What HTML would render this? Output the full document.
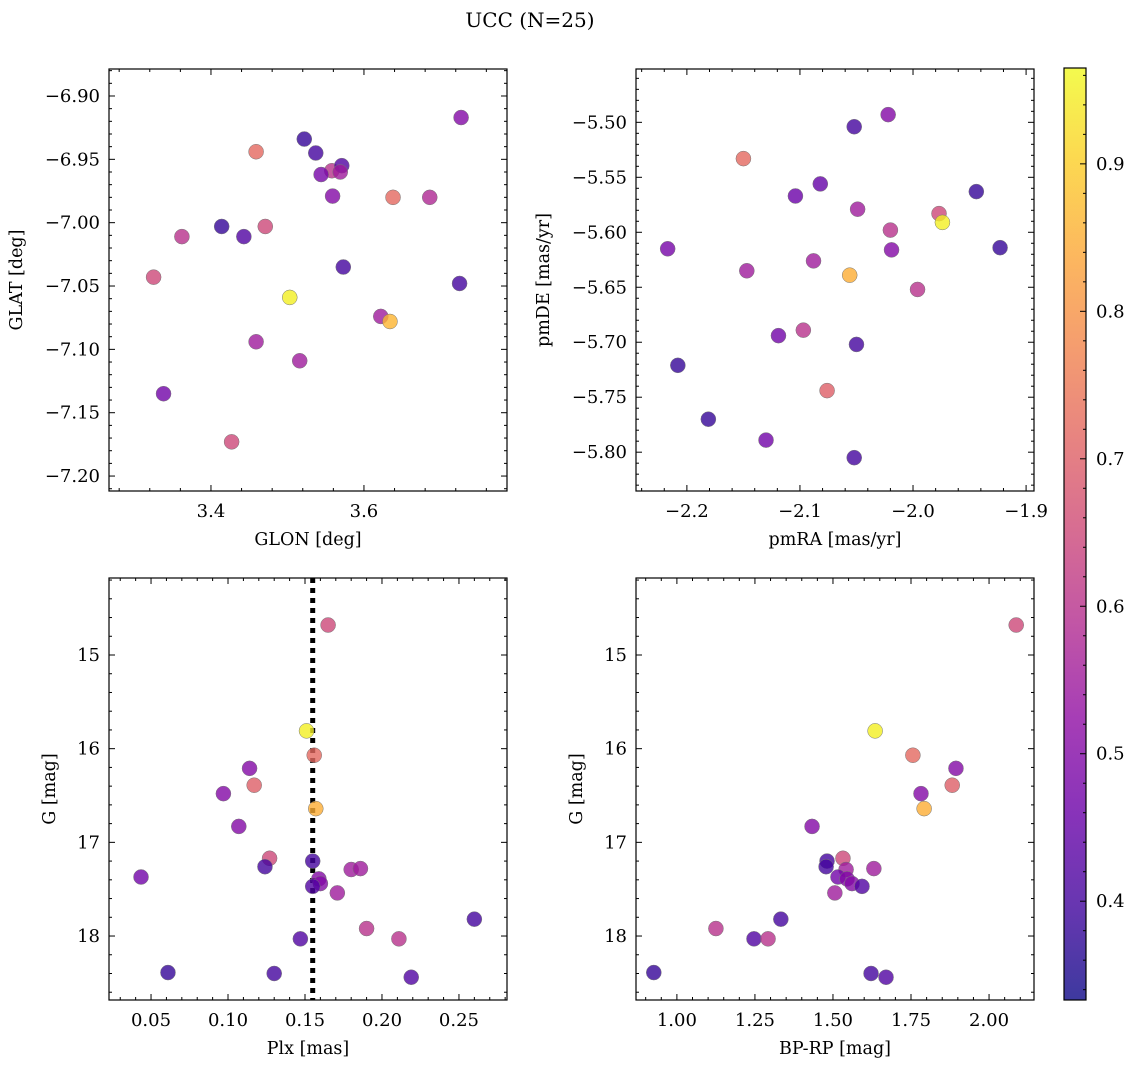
<!DOCTYPE html>
<html><head><meta charset="utf-8"><style>
body{margin:0;background:#fff}
svg text{font-family:"DejaVu Serif","Liberation Serif",serif;fill:#000}
</style></head><body>
<svg id="fig" width="1136" height="1068" xmlns="http://www.w3.org/2000/svg">
<text x="530" y="27" font-size="20" text-anchor="middle">UCC (N=25)</text>
</svg>
<script>
const glon=[3.727,3.558,3.459,3.522,3.537,3.571,3.544,3.569,3.559,3.638,3.686,3.362,3.414,3.443,3.471,3.325,3.573,3.725,3.503,3.622,3.634,3.459,3.516,3.338,3.427];
const glat=[-6.917,-6.959,-6.944,-6.934,-6.945,-6.955,-6.962,-6.960,-6.979,-6.980,-6.980,-7.011,-7.003,-7.011,-7.003,-7.043,-7.035,-7.048,-7.059,-7.074,-7.078,-7.094,-7.109,-7.135,-7.173];
const probA=[0.5,0.6,0.72,0.38,0.4,0.42,0.48,0.55,0.5,0.72,0.58,0.6,0.38,0.42,0.65,0.65,0.4,0.4,0.95,0.55,0.86,0.55,0.55,0.47,0.65];
const pmra=[-2.022,-2.052,-2.150,-2.104,-2.082,-2.049,-1.944,-1.977,-1.974,-2.020,-2.217,-2.019,-1.923,-2.088,-2.147,-2.056,-1.996,-2.119,-2.097,-2.050,-2.208,-2.076,-2.181,-2.130,-2.052];
const pmde=[-5.493,-5.504,-5.533,-5.567,-5.556,-5.579,-5.563,-5.583,-5.591,-5.598,-5.615,-5.616,-5.614,-5.626,-5.635,-5.639,-5.652,-5.694,-5.689,-5.702,-5.721,-5.744,-5.770,-5.789,-5.805];
const probB=[0.5,0.4,0.72,0.46,0.45,0.55,0.38,0.65,0.95,0.6,0.48,0.5,0.38,0.55,0.55,0.85,0.6,0.47,0.6,0.4,0.38,0.7,0.38,0.47,0.4];
const plx=[0.165,0.151,0.156,0.114,0.117,0.097,0.157,0.107,0.127,0.155,0.124,0.180,0.186,0.0435,0.159,0.160,0.155,0.171,0.260,0.190,0.147,0.211,0.061,0.130,0.219];
const gmag=[14.68,15.81,16.07,16.21,16.39,16.48,16.64,16.83,17.17,17.20,17.26,17.29,17.28,17.37,17.39,17.44,17.47,17.54,17.82,17.92,18.03,18.03,18.39,18.40,18.44];
const bprp=[2.087,1.635,1.756,1.894,1.882,1.782,1.792,1.433,1.532,1.481,1.478,1.542,1.631,1.516,1.545,1.561,1.593,1.506,1.333,1.125,1.247,1.292,0.926,1.622,1.670];
const probC=[0.65,0.95,0.72,0.5,0.7,0.5,0.85,0.5,0.65,0.4,0.4,0.55,0.55,0.47,0.5,0.5,0.42,0.55,0.4,0.6,0.42,0.6,0.38,0.4,0.42];
const plxMedian=0.155;
const cbTicks=[0.4,0.5,0.6,0.7,0.8,0.9];
const cmin=0.333,cmax=0.965;
const stops=["#0d0887","#41049d","#6a00a8","#8f0da4","#b12a90","#cc4778","#e16462","#f2844b","#fca636","#fcce25","#f0f921"];
function hex(h){return [1,3,5].map(i=>parseInt(h.substr(i,2),16));}
function plasma(t){t=Math.max(0,Math.min(1,t))*10;const i=Math.min(9,Math.floor(t)),f=t-i;const a=hex(stops[i]),b=hex(stops[i+1]);return "rgb("+a.map((v,k)=>Math.round(v+(b[k]-v)*f)).join(",")+")";}
const svg=document.getElementById('fig');const NS="http://www.w3.org/2000/svg";
function el(tag,attrs,parent){const e=document.createElementNS(NS,tag);for(const k in attrs)e.setAttribute(k,attrs[k]);(parent||svg).appendChild(e);return e;}
function panel(o){
  const g=el('g',{});
  
  
  const X=v=>o.x0+(v-o.xmin)/(o.xmax-o.xmin)*(o.x1-o.x0);
  const Y=o.inv?v=>o.y0+(v-o.ymin)/(o.ymax-o.ymin)*(o.y1-o.y0):v=>o.y1-(v-o.ymin)/(o.ymax-o.ymin)*(o.y1-o.y0);
  const tg=el('g',{stroke:'#000','stroke-width':1},g);
  for(let v=o.xt0-o.xs*5;v<=o.xmax+1e-9;v+=o.xs/5){if(v<o.xmin-1e-9)continue;const px=X(v);const maj=Math.abs((v-o.xt0)/o.xs-Math.round((v-o.xt0)/o.xs))<1e-6;const L=maj?6:3;
    el('line',{x1:px,x2:px,y1:o.y1,y2:o.y1-L},tg);el('line',{x1:px,x2:px,y1:o.y0,y2:o.y0+L},tg);}
  for(let v=o.yt0-o.ys*5;v<=o.ymax+1e-9;v+=o.ys/5){if(v<o.ymin-1e-9)continue;const py=Y(v);const maj=Math.abs((v-o.yt0)/o.ys-Math.round((v-o.yt0)/o.ys))<1e-6;const L=maj?6:3;
    el('line',{x1:o.x0,x2:o.x0+L,y1:py,y2:py},tg);el('line',{x1:o.x1,x2:o.x1-L,y1:py,y2:py},tg);}
  o.xticks.forEach(v=>{const t=el('text',{x:X(v),y:o.y1+26,'font-size':18,'text-anchor':'middle'},g);t.textContent=String(v.toFixed(o.xd)).replace('-','−');});
  o.yticks.forEach(v=>{const t=el('text',{x:o.x0-9,y:Y(v)+6,'font-size':18,'text-anchor':'end'},g);t.textContent=String(v.toFixed(o.yd)).replace('-','−');});
  const xl=el('text',{x:(o.x0+o.x1)/2,y:o.y1+54,'font-size':17.5,'text-anchor':'middle'},g);xl.textContent=o.xlabel;
  
  const yl=el('text',{x:0,y:0,'font-size':17.5,'text-anchor':'middle',transform:`translate(${o.x0-o.yoff},${(o.y0+o.y1)/2}) rotate(-90)`},g);yl.textContent=o.ylabel;
  
  if(o.vline!==undefined){const l=el('line',{x1:X(o.vline),x2:X(o.vline),y1:o.y0,y2:o.y1,stroke:'#000','stroke-width':5,'stroke-dasharray':'5,5'},g);}
  o.xs_.forEach((v,i)=>{const c=el('circle',{cx:X(v),cy:Y(o.ys_[i]),r:7.5,fill:plasma((o.c[i]-cmin)/(cmax-cmin)),'fill-opacity':0.8,stroke:'#777','stroke-width':0.5},g);
    });
  el('rect',{x:o.x0,y:o.y0,width:o.x1-o.x0,height:o.y1-o.y0,fill:'none',stroke:'#000','stroke-width':1.2},g);
}
panel({name:'glon-glat-panel',yoff:87,x0:109,x1:507,y0:69,y1:491,xmin:3.2667,xmax:3.787,ymin:-7.2118,ymax:-6.8787,xt0:3.4,xs:0.2,yt0:-7.2,ys:0.05,xticks:[3.4,3.6],xd:1,yticks:[-7.2,-7.15,-7.1,-7.05,-7.0,-6.95,-6.9],yd:2,xlabel:'GLON [deg]',ylabel:'GLAT [deg]',xs_:glon,ys_:glat,c:probA});
panel({name:'proper-motion-panel',yoff:87,x0:636,x1:1034,y0:69,y1:491,xmin:-2.245,xmax:-1.893,ymin:-5.8353,ymax:-5.4515,xt0:-2.2,xs:0.1,yt0:-5.8,ys:0.05,xticks:[-2.2,-2.1,-2.0,-1.9],xd:1,yticks:[-5.8,-5.75,-5.7,-5.65,-5.6,-5.55,-5.5],yd:2,xlabel:'pmRA [mas/yr]',ylabel:'pmDE [mas/yr]',xs_:pmra,ys_:pmde,c:probB});
panel({name:'plx-g-panel',yoff:54,x0:109,x1:507,y0:578,y1:1000,inv:true,xmin:0.0227,xmax:0.2812,ymin:14.178,ymax:18.683,xt0:0.05,xs:0.05,yt0:15,ys:1,xticks:[0.05,0.10,0.15,0.20,0.25],xd:2,yticks:[15,16,17,18],yd:0,xlabel:'Plx [mas]',ylabel:'G [mag]',xs_:plx,ys_:gmag,c:probC,vline:plxMedian});
panel({name:'cmd-panel',yoff:54,x0:636,x1:1034,y0:578,y1:1000,inv:true,xmin:0.869,xmax:2.144,ymin:14.178,ymax:18.683,xt0:1.0,xs:0.25,yt0:15,ys:1,xticks:[1.0,1.25,1.5,1.75,2.0],xd:2,yticks:[15,16,17,18],yd:0,xlabel:'BP-RP [mag]',ylabel:'G [mag]',xs_:bprp,ys_:gmag,c:probC});
const defs=el('defs',{});const lg=el('linearGradient',{id:'cb',x1:0,y1:1,x2:0,y2:0},defs);
for(let i=0;i<=10;i++)el('stop',{offset:i/10,'stop-color':stops[i],'stop-opacity':0.8},lg);
const cb=el('g',{});
const cy0=68,cy1=1000,cx0=1064,cx1=1086;
el('rect',{x:cx0,y:cy0,width:cx1-cx0,height:cy1-cy0,fill:'url(#cb)',stroke:'#000','stroke-width':1.2},cb);
const CY=v=>cy1-(v-cmin)/(cmax-cmin)*(cy1-cy0);
for(let v=0.34;v<cmax;v+=0.02){const m=Math.abs(v*10-Math.round(v*10))<1e-6;el('line',{x1:cx1,x2:cx1-(m?6:3),y1:CY(v),y2:CY(v),stroke:'#000'},cb);}
cbTicks.forEach(v=>{const t=el('text',{x:cx1+10,y:CY(v)+6,'font-size':18},cb);t.textContent=v.toFixed(1);});
</script>
</body></html>
